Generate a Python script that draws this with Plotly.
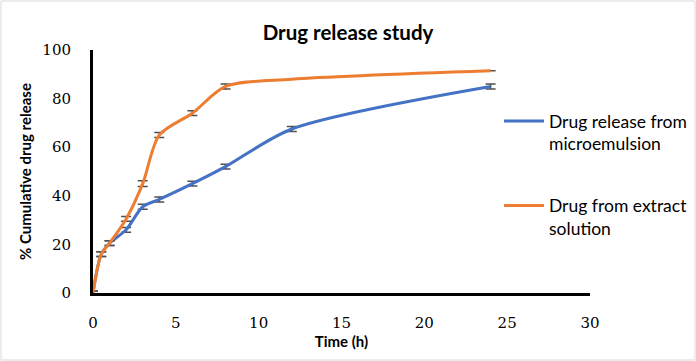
import plotly.graph_objects as go

time_micro = [0, 0.5, 1, 2, 3, 4, 6, 8, 12, 24]
rel_micro = [0, 16, 20.5, 26, 35.5, 38.5, 45, 52, 67.5, 85]
err_micro = [0.8, 1, 1, 1, 1, 1, 1, 1, 1, 1]

time_ext = [0, 0.5, 1, 2, 3, 4, 6, 8, 12, 24]
rel_ext = [0, 16, 20.5, 30.5, 45, 65, 74, 85, 88, 91.5]
err_ext = [0.8, 1, 1, 1, 1.2, 1, 1, 1, None, None]

x_ticks = [0, 5, 10, 15, 20, 25, 30]
y_ticks = [0, 20, 40, 60, 80, 100]

FONT = "Lato, Carlito, Calibri, sans-serif"
SERIF = "DejaVu Serif, Cambria, serif"

fig = go.Figure()
fig.add_trace(go.Scatter(
    x=time_micro, y=rel_micro, mode="lines",
    line=dict(color="#4472C4", width=3, shape="spline", smoothing=0.8),
    error_y=dict(type="data", array=err_micro, visible=True, color="#505050", thickness=1.5, width=5),
    name="Drug release from<br>microemulsion", legendgroup="a"))
fig.add_trace(go.Scatter(
    x=time_ext, y=rel_ext, mode="lines",
    line=dict(color="#ED7D31", width=3, shape="spline", smoothing=0.8),
    error_y=dict(type="data", array=err_ext, visible=True, color="#505050", thickness=1.5, width=5),
    name="Drug from extract<br>solution", legendgroup="b"))

W, H = 696, 361
L, R, T, B = 93, 106, 50, 68
pw, ph = W - L - R, H - T - B

fig.update_layout(
    width=W, height=H,
    margin=dict(l=L, r=R, t=T, b=B, autoexpand=False),
    paper_bgcolor="white", plot_bgcolor="white",
    font=dict(family=FONT, size=14, color="#000000"),
    title=dict(text="<b>Drug release study</b>", x=0.5, xanchor="center",
               y=1 - 33 / H, yanchor="middle", font=dict(size=20.5, family=FONT)),
    xaxis=dict(range=[0, 30], tickvals=x_ticks, showgrid=False, zeroline=False,
               showline=True, linecolor="black", linewidth=2.5,
               ticks="outside", ticklen=14, tickcolor="rgba(0,0,0,0)",
               tickfont=dict(size=15, color="#000000", family=SERIF),
               title=dict(text="<b>Time (h)</b>", font=dict(size=15), standoff=2)),
    yaxis=dict(range=[0, 100], tickvals=y_ticks, showgrid=False, zeroline=False,
               showline=True, linecolor="black", linewidth=3,
               ticks="outside", ticklen=16, tickcolor="rgba(0,0,0,0)",
               tickfont=dict(size=15, color="#000000", family=SERIF),
               title=dict(text="<b>% Cumulative drug release</b>", font=dict(size=15), standoff=8)),
    legend=dict(x=(499 - L) / pw, y=(T + ph - 103) / ph, xanchor="left", yanchor="top",
                valign="top", tracegroupgap=36, font=dict(size=17.5, family=FONT),
                bgcolor="rgba(0,0,0,0)", itemwidth=40),
    showlegend=True,
)
fig.add_shape(type="rect", xref="paper", yref="paper",
              x0=-(L - 1) / pw, x1=1 + (R - 1) / pw, y0=-(B - 1) / ph, y1=1 + (T - 1) / ph,
              line=dict(color="#D9D9D9", width=1), fillcolor="rgba(0,0,0,0)", layer="below")

fig.write_html("out.html", config={"displayModeBar": False},
               post_script="document.body.style.margin='0';document.body.style.overflow='hidden';")
